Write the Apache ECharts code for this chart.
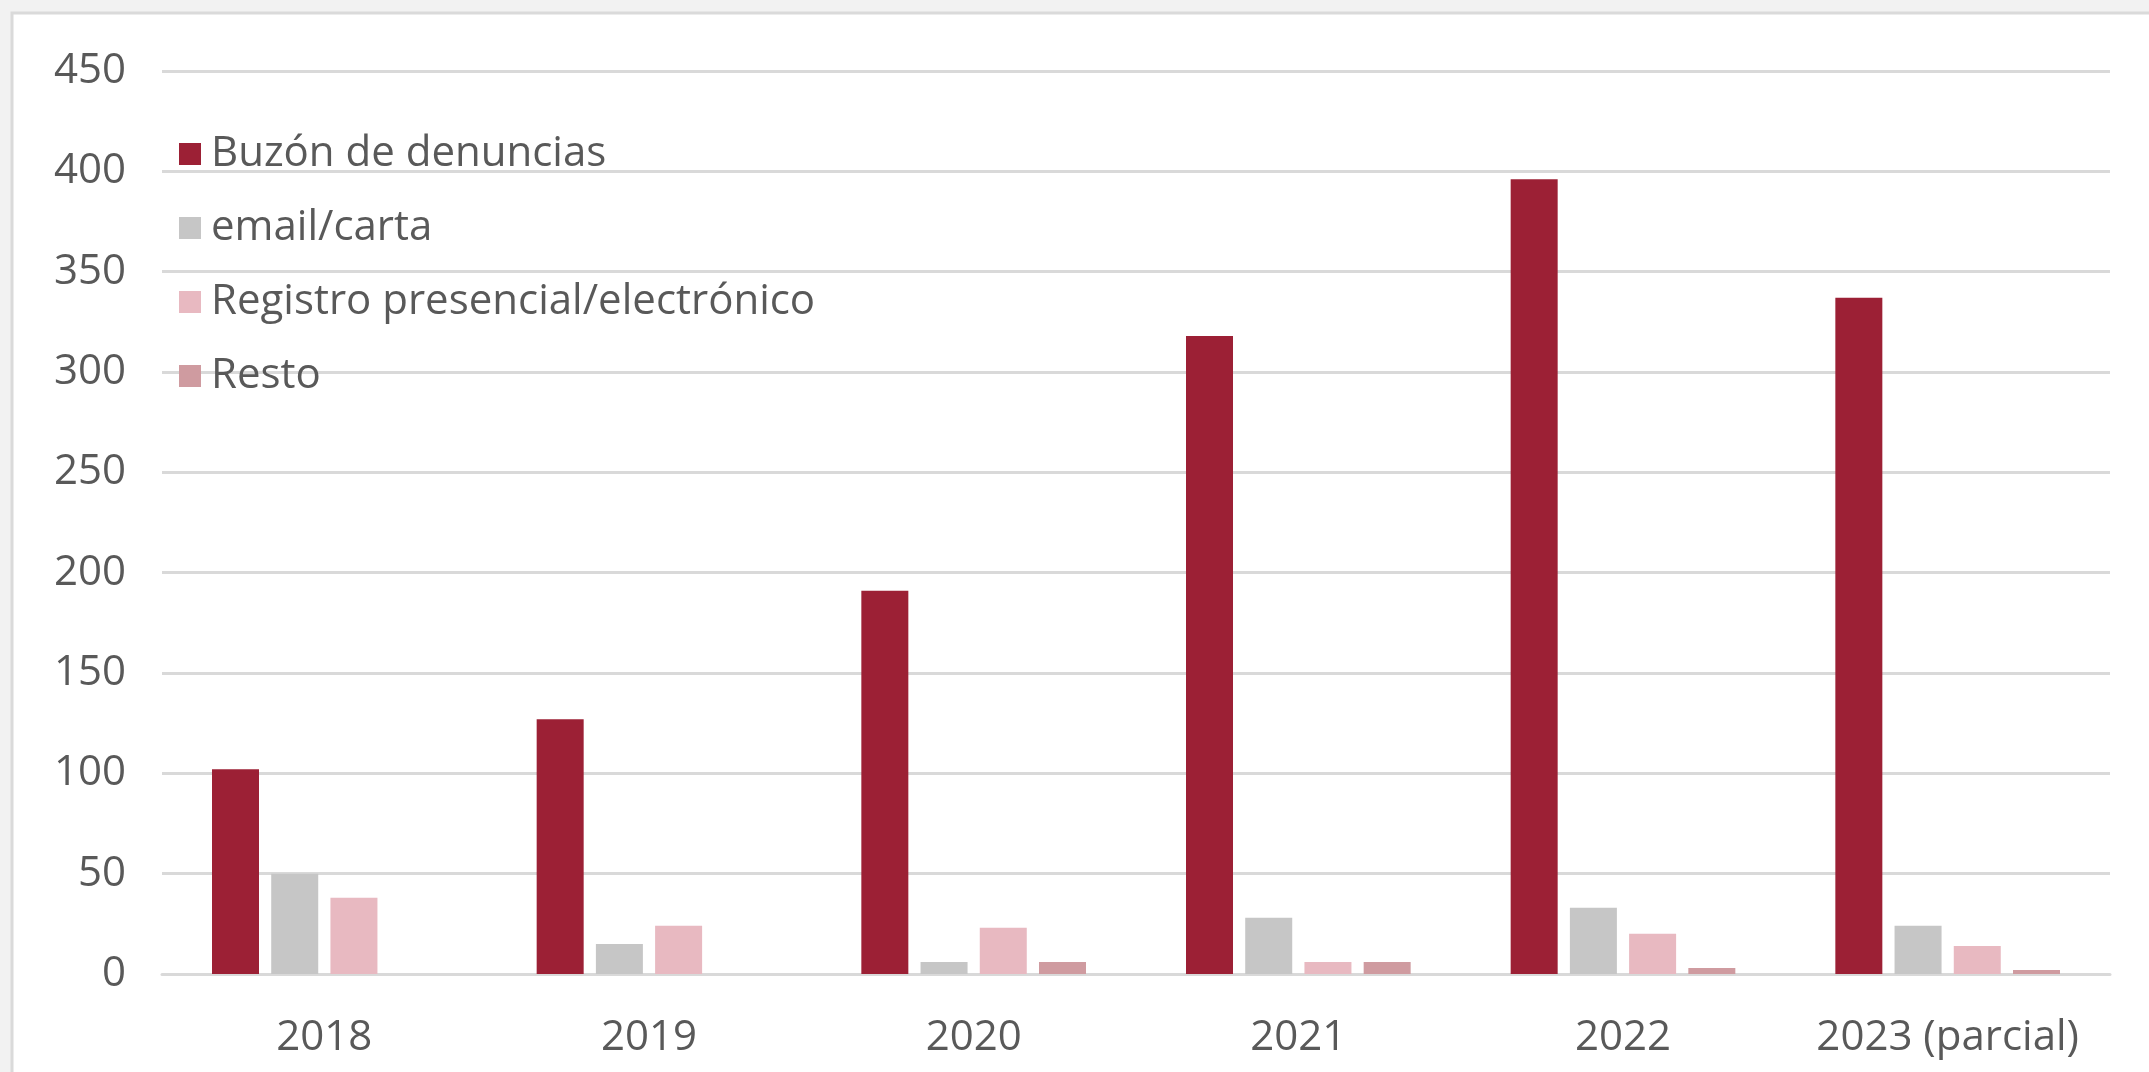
<!DOCTYPE html>
<html>
<head>
<meta charset="utf-8">
<script src="https://cdn.jsdelivr.net/npm/echarts@6/dist/echarts.min.js"></script>
<style>
html,body{margin:0;padding:0;background:#F2F2F2;}
#chart{width:2149px;height:1072px;}
</style>
</head>
<body>
<div id="chart"></div>
<script>
const categories = ['2018', '2019', '2020', '2021', '2022', '2023 (parcial)'];
const seriesNames = ['Buzón de denuncias', 'email/carta', 'Registro presencial/electrónico', 'Resto'];
const buzon = [102, 127, 191, 318, 396, 337];
const email = [50, 15, 6, 28, 33, 24];
const registro = [38, 24, 23, 6, 20, 14];
const resto = [0, 0, 6, 6, 3, 2];
const yTicks = [0, 450, 50];

const colors = ['#9C2035', '#C6C6C6', '#E8B9C1', '#CF9BA0'];
const values = [buzon, email, registro, resto];
const fontFam = '"Open Sans", "Liberation Sans", sans-serif';

const chart = echarts.init(document.getElementById('chart'));
chart.setOption({
  backgroundColor: '#F2F2F2',
  animation: false,
  graphic: [{
    type: 'rect', z: -10, silent: true,
    shape: {x: 12, y: 13, width: 2200, height: 1100},
    style: {fill: '#FFFFFF', stroke: '#DADADA', lineWidth: 3}
  }],
  grid: {left: 162, right: 39, top: 71, bottom: 98, containLabel: false},
  legend: {
    orient: 'vertical',
    left: 174, top: 127,
    icon: 'rect',
    itemWidth: 22, itemHeight: 22,
    itemGap: 30,
    data: seriesNames,
    textStyle: {color: '#595959', fontSize: 42, fontFamily: fontFam, lineHeight: 44, padding: [0, 0, 0, 5]}
  },
  xAxis: {
    type: 'category',
    data: categories,
    axisLine: {lineStyle: {color: '#D9D9D9', width: 3}},
    axisTick: {show: false},
    axisLabel: {color: '#595959', fontSize: 42, fontFamily: fontFam, margin: 43, interval: 0}
  },
  yAxis: {
    type: 'value',
    min: yTicks[0], max: yTicks[1], interval: yTicks[2],
    axisLine: {show: false},
    axisTick: {show: false},
    splitLine: {lineStyle: {color: '#D9D9D9', width: 3}},
    axisLabel: {color: '#595959', fontSize: 42, fontFamily: fontFam, margin: 36}
  },
  series: seriesNames.map((n, i) => ({
    name: n,
    type: 'bar',
    data: values[i],
    barWidth: 47,
    barGap: '26%',
    itemStyle: {color: colors[i]}
  }))
});
</script>
</body>
</html>
